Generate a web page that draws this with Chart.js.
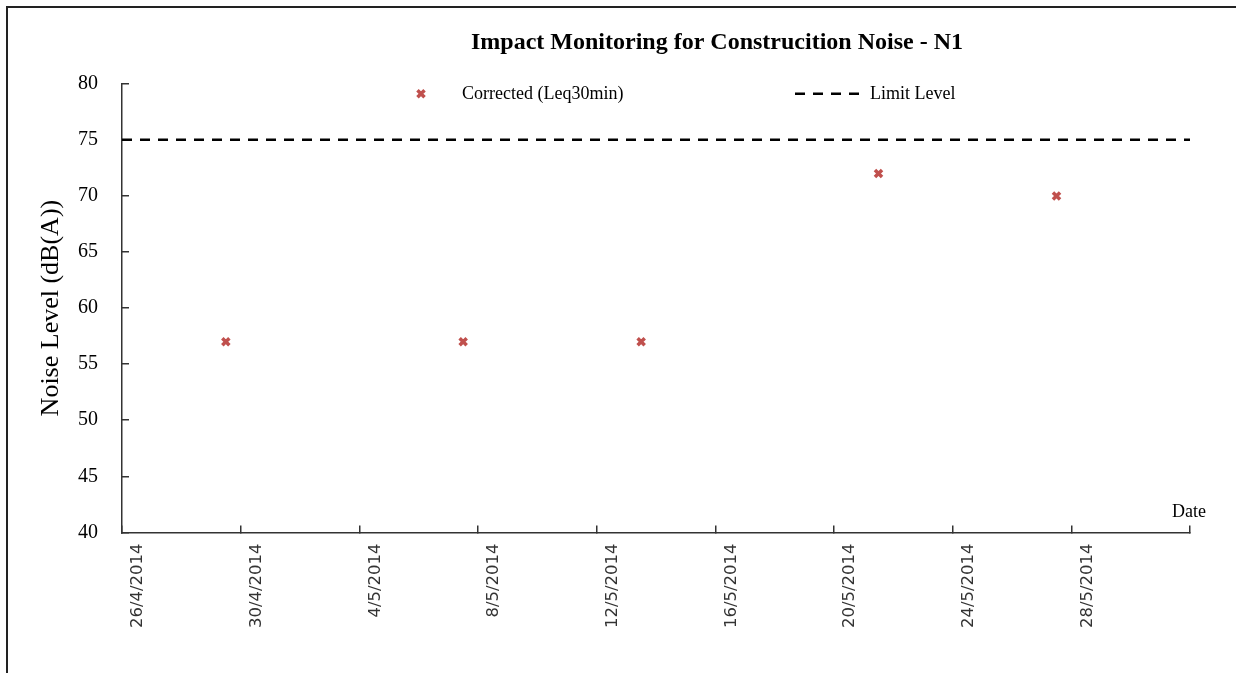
<!DOCTYPE html>
<html>
<head>
<meta charset="utf-8">
<script src="https://cdn.jsdelivr.net/npm/chart.js@4.4.1/dist/chart.umd.min.js"></script>
<style>
  html, body { margin: 0; padding: 0; background: #fff; overflow: hidden; }
  #wrap { position: relative; width: 1236px; height: 673px; }
  #frame { position: absolute; left: 6px; top: 6px; width: 2000px; height: 2000px; border: 2px solid #222; }
  canvas { position: absolute; left: 0; top: 0; }
</style>
</head>
<body>
<div id="wrap">
  <div id="frame"></div>
  <canvas id="chart" width="1236" height="673"></canvas>
</div>
<script>
// axis range and ticks (dates, dd/mm/yyyy on the axis)
const axisStart = "2014-04-26";
const axisEnd = "2014-06-01";
const tickStepDays = 4;

// monitoring results
const sampleTimes = ["2014-04-29T12:00", "2014-05-07T12:00", "2014-05-13T12:00", "2014-05-21T12:00", "2014-05-27T12:00"];
const correctedLeq = [57, 57, 57, 72, 70];
const limitLevel = 75;

const DAY = 86400000;
const t0 = Date.parse(axisStart + "T00:00Z");
function dayOffset(s) {
  const iso = s.length > 10 ? s + "Z" : s + "T00:00Z";
  return (Date.parse(iso) - t0) / DAY;
}
const xMax = dayOffset(axisEnd);

const seriesColor = "#c0504d";

// legend + "Date" label, drawn inside the plot like the original
const extras = {
  id: "extras",
  afterLayout(chart) {
    // title sits off-centre in the original
    const tb = chart.titleBlock;
    if (tb) { tb.left += 122; tb.right += 122; }
  },
  afterDraw(chart) {
    const ctx = chart.ctx;
    const a = chart.chartArea;
    const y = a.top + 10;
    ctx.save();
    ctx.strokeStyle = seriesColor;
    ctx.fillStyle = seriesColor;
    ctx.lineWidth = 3.5;
    Chart.helpers.drawPoint(ctx, {
      pointStyle: "crossRot", radius: 5, borderWidth: 3.5
    }, a.left + 299, y);
    ctx.restore();
    ctx.save();
    ctx.font = "18px 'Liberation Serif'";
    ctx.fillStyle = "#000";
    ctx.textBaseline = "middle";
    ctx.fillText("Corrected (Leq30min)", a.left + 340, y);
    ctx.beginPath();
    ctx.setLineDash([10, 8]);
    ctx.lineWidth = 2.5;
    ctx.strokeStyle = "#000";
    ctx.moveTo(a.left + 673, y);
    ctx.lineTo(a.left + 737, y);
    ctx.stroke();
    ctx.setLineDash([]);
    ctx.fillText("Limit Level", a.left + 748, y);
    ctx.fillText("Date", a.right - 18, a.bottom - 20);
    ctx.restore();
  }
};

new Chart("chart", {
  type: "scatter",
  data: {
    datasets: [
      {
        label: "Corrected (Leq30min)",
        data: sampleTimes.map((s, i) => ({ x: dayOffset(s), y: correctedLeq[i] })),
        pointStyle: "crossRot",
        pointRadius: 5,
        pointBorderWidth: 3.5,
        borderColor: seriesColor,
        backgroundColor: seriesColor,
      },
      {
        label: "Limit Level",
        type: "line",
        data: [{ x: 0, y: limitLevel }, { x: xMax, y: limitLevel }],
        borderColor: "#000",
        borderWidth: 2.5,
        borderDash: [10, 8],
        pointRadius: 0,
        fill: false,
      },
    ],
  },
  plugins: [extras],
  options: {
    responsive: false,
    animation: false,
    layout: { padding: { left: 0, right: 46, top: 0, bottom: 27 } },
    plugins: {
      legend: { display: false },
      tooltip: { enabled: false },
      title: {
        display: true,
        text: "Impact Monitoring for Construcition Noise - N1",
        color: "#000",
        font: { family: "'Liberation Serif'", size: 24, weight: "bold" },
        padding: { top: 28, bottom: 27 },
      },
    },
    scales: {
      x: {
        type: "linear",
        min: 0,
        max: xMax,
        border: { color: "#333", width: 1.5 },
        grid: { drawOnChartArea: false, tickLength: -7, color: "#333", lineWidth: 1.5 },
        ticks: {
          stepSize: tickStepDays,
          minRotation: 90,
          maxRotation: 90,
          padding: 18,
          labelOffset: 16,
          color: "#333",
          font: { family: "'DejaVu Sans'", size: 16.5 },
          callback: function (v) {
            if (v >= xMax) return "";
            const d = new Date(t0 + v * DAY);
            return d.getUTCDate() + "/" + (d.getUTCMonth() + 1) + "/" + d.getUTCFullYear();
          },
        },
      },
      y: {
        min: 40,
        max: 80,
        border: { color: "#333", width: 1.5 },
        grid: { drawOnChartArea: false, tickLength: -7, color: "#333", lineWidth: 1.5 },
        ticks: {
          stepSize: 5,
          padding: 31,
          color: "#000",
          font: { family: "'Liberation Serif'", size: 20 },
        },
        title: {
          display: true,
          text: "Noise Level (dB(A))",
          color: "#000",
          font: { family: "'Liberation Serif'", size: 26 },
          padding: { top: 36, bottom: 0 },
        },
        afterFit: function (scale) { scale.width = 122; },
      },
    },
  },
});
</script>
</body>
</html>
